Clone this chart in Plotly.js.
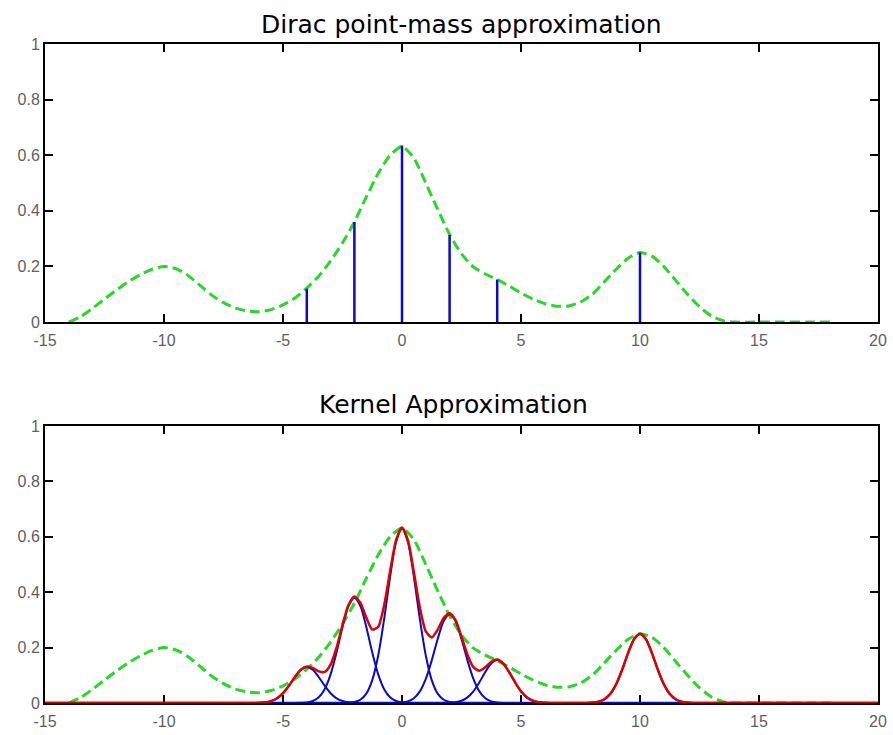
<!DOCTYPE html>
<html>
<head>
<meta charset="utf-8">
<script src="https://cdn.plot.ly/plotly-3.0.1.min.js"></script>
<style>html,body{margin:0;padding:0;background:#fff;}#chart{width:893px;height:735px;}</style>
</head>
<body>
<div id="chart"></div>
<script>
// ---- Data ----
const titleTop = "Dirac point-mass approximation";
const titleBottom = "Kernel Approximation";

const xTicks = [-15, -10, -5, 0, 5, 10, 15, 20];
const yTicks = [0, 0.2, 0.4, 0.6, 0.8, 1];
const yTickText = ['0', '0.2', '0.4', '0.6', '0.8', '1'];

// green dashed target density
const greenX = [-14,-13.5,-13,-12.5,-12,-11.5,-11,-10.5,-10,-9.5,-9,-8.5,-8,-7.5,-7,-6.5,-6,-5.5,-5,-4.5,-4,-3.5,-3,-2.5,-2,-1.5,-1,-0.5,0,0.5,1,1.5,2,2.5,3,3.5,4,4.5,5,5.5,6,6.5,7,7.5,8,8.5,9,9.5,10,10.5,11,11.5,12,12.5,13,13.5,14,15,16,17,18];
const greenY = [0,0.02,0.05,0.083,0.115,0.145,0.17,0.19,0.2,0.192,0.168,0.133,0.097,0.07,0.05,0.04,0.037,0.045,0.062,0.087,0.122,0.165,0.22,0.285,0.36,0.45,0.535,0.6,0.632,0.59,0.5,0.405,0.315,0.245,0.198,0.173,0.153,0.13,0.105,0.083,0.066,0.057,0.058,0.072,0.1,0.145,0.19,0.23,0.25,0.237,0.2,0.15,0.1,0.055,0.022,0.005,0,0,0,0,0];

// blue stems (Dirac masses)
const stemX = [-4, -2, 0, 2, 4, 10];
const stemY = [0.12, 0.36, 0.635, 0.313, 0.153, 0.25];

// blue kernels (bottom), sampled at offsets around each centre
const kernelCenters = [-4, -2, 0, 2, 4, 10];
const kernelOffsets = [-2.5,-2.25,-2,-1.75,-1.5,-1.25,-1,-0.75,-0.5,-0.25,0,0.25,0.5,0.75,1,1.25,1.5,1.75,2,2.25,2.5];
const kernelM4 = [0,0.0002,0.0007,0.0024,0.007,0.017,0.0354,0.0625,0.0939,0.1199,0.13,0.1199,0.0939,0.0625,0.0354,0.017,0.007,0.0024,0.0007,0.0002,0];
const kernelM2 = [0.0001,0.0005,0.0021,0.0071,0.0204,0.0498,0.1034,0.1828,0.2744,0.3504,0.38,0.3504,0.2744,0.1828,0.1034,0.0498,0.0204,0.0071,0.0021,0.0005,0.0001];
const kernel0  = [0.0002,0.0009,0.0035,0.0117,0.0338,0.0825,0.1714,0.303,0.4549,0.5809,0.63,0.5809,0.4549,0.303,0.1714,0.0825,0.0338,0.0117,0.0035,0.0009,0.0002];
const kernelP2 = [0.0001,0.0004,0.0018,0.006,0.0172,0.0419,0.087,0.1539,0.231,0.295,0.32,0.295,0.231,0.1539,0.087,0.0419,0.0172,0.006,0.0018,0.0004,0.0001];
const kernelP4 = [0,0.0002,0.0009,0.0029,0.0083,0.0203,0.0422,0.0746,0.1119,0.1429,0.155,0.1429,0.1119,0.0746,0.0422,0.0203,0.0083,0.0029,0.0009,0.0002,0];
const kernelP10 = [0.0001,0.0004,0.0014,0.0047,0.0134,0.0328,0.068,0.1203,0.1805,0.2305,0.25,0.2305,0.1805,0.1203,0.068,0.0328,0.0134,0.0047,0.0014,0.0004,0.0001];

// red kernel approximation (sum)
const redX = [-15,-6.5,-6.25,-6,-5.75,-5.5,-5.25,-5,-4.75,-4.5,-4.25,-4,-3.75,-3.5,-3.25,-3,-2.75,-2.5,-2.25,-2,-1.75,-1.5,-1.25,-1,-0.75,-0.5,-0.25,0,0.25,0.5,0.75,1,1.25,1.5,1.75,2,2.25,2.5,2.75,3,3.25,3.5,3.75,4,4.25,4.5,4.75,5,5.25,5.5,5.75,6,6.25,6.5,7.5,7.75,8,8.25,8.5,8.75,9,9.25,9.5,9.75,10,10.25,10.5,10.75,11,11.25,11.5,11.75,12,12.25,12.5,20];
const redY = [0,0,0.0002,0.0007,0.0024,0.007,0.017,0.0354,0.0625,0.0939,0.1199,0.1321,0.127,0.1143,0.1123,0.1388,0.1998,0.2816,0.3537,0.3842,0.3623,0.3082,0.2653,0.2748,0.3528,0.4754,0.5884,0.6339,0.5874,0.4722,0.3449,0.2584,0.2364,0.2648,0.3069,0.3244,0.2988,0.2395,0.1742,0.1292,0.1165,0.1291,0.1489,0.1568,0.1433,0.112,0.0746,0.0422,0.0203,0.0083,0.0029,0.0009,0.0002,0,0.0001,0.0004,0.0014,0.0047,0.0134,0.0328,0.068,0.1203,0.1805,0.2305,0.25,0.2305,0.1805,0.1203,0.068,0.0328,0.0134,0.0047,0.0014,0.0004,0.0001,0];

// ---- Build traces ----
const GREEN = 'rgb(40,215,40)';
const BLUE = 'rgb(10,10,200)';
const RED = 'rgb(220,0,0)';

const traces = [];
traces.push({x: greenX, y: greenY, xaxis: 'x', yaxis: 'y', mode: 'lines',
  line: {color: GREEN, width: 3, dash: '10px,5px', shape: 'spline', smoothing: 0.6}, hoverinfo: 'skip'});
const sx = [], sy = [];
stemX.forEach((v, i) => { sx.push(v, v, null); sy.push(0, stemY[i], null); });
traces.push({x: sx, y: sy, xaxis: 'x', yaxis: 'y', mode: 'lines',
  line: {color: BLUE, width: 2.5}, hoverinfo: 'skip'});

traces.push({x: greenX, y: greenY, xaxis: 'x2', yaxis: 'y2', mode: 'lines',
  line: {color: GREEN, width: 3, dash: '10px,5px', shape: 'spline', smoothing: 0.6}, hoverinfo: 'skip'});
traces.push({x: [-15, 20], y: [0, 0], xaxis: 'x2', yaxis: 'y2', mode: 'lines',
  line: {color: BLUE, width: 2.5}, hoverinfo: 'skip'});
const kernels = [kernelM4, kernelM2, kernel0, kernelP2, kernelP4, kernelP10];
kernels.forEach((k, i) => {
  traces.push({x: kernelOffsets.map(o => kernelCenters[i] + o), y: k, xaxis: 'x2', yaxis: 'y2', mode: 'lines',
    line: {color: BLUE, width: 2, shape: 'spline', smoothing: 0.8}, hoverinfo: 'skip'});
});
traces.push({x: redX, y: redY, xaxis: 'x2', yaxis: 'y2', mode: 'lines',
  line: {color: RED, width: 2.5, shape: 'spline', smoothing: 0.6}, hoverinfo: 'skip'});

const tickFont = {family: 'Liberation Sans, Arial, sans-serif', size: 16, color: '#606060'};
function xax(anchor) {
  return {range: [-15, 20], tickvals: xTicks, ticktext: xTicks.map(String), anchor: anchor,
    showline: true, linecolor: '#000', linewidth: 2, mirror: 'ticks', ticks: 'inside', ticklen: 8,
    tickwidth: 2, tickcolor: '#000', showgrid: false, zeroline: false, tickfont: tickFont,
    ticklabelstandoff: 3, layer: 'below traces', fixedrange: true};
}
function yax(anchor, domain) {
  return {range: [0, 1], tickvals: yTicks, ticktext: yTickText, anchor: anchor, domain: domain,
    showline: true, linecolor: '#000', linewidth: 2, mirror: 'ticks', ticks: 'inside', ticklen: 8,
    tickwidth: 2, tickcolor: '#000', showgrid: false, zeroline: false, tickfont: tickFont,
    layer: 'below traces', fixedrange: true};
}

const layout = {
  width: 893, height: 735,
  margin: {l: 45, r: 15, t: 44, b: 32},
  paper_bgcolor: '#fff', plot_bgcolor: '#fff',
  showlegend: false,
  xaxis: xax('y'),
  yaxis: yax('x', [0.578, 1]),
  xaxis2: xax('y2'),
  yaxis2: yax('x2', [0, 0.4203]),
  annotations: [
    {text: titleTop, xref: 'paper', yref: 'paper', x: 0.5, y: 1.03, xanchor: 'center', yanchor: 'middle',
      showarrow: false, font: {family: 'DejaVu Sans, Verdana, sans-serif', size: 25, color: '#000'}},
    {text: titleBottom, xref: 'paper', yref: 'paper', x: 0.49, y: 0.453, xanchor: 'center', yanchor: 'middle',
      showarrow: false, font: {family: 'DejaVu Sans, Verdana, sans-serif', size: 25, color: '#000'}}
  ]
};

Plotly.newPlot('chart', traces, layout, {staticPlot: true, displayModeBar: false});
</script>
</body>
</html>
